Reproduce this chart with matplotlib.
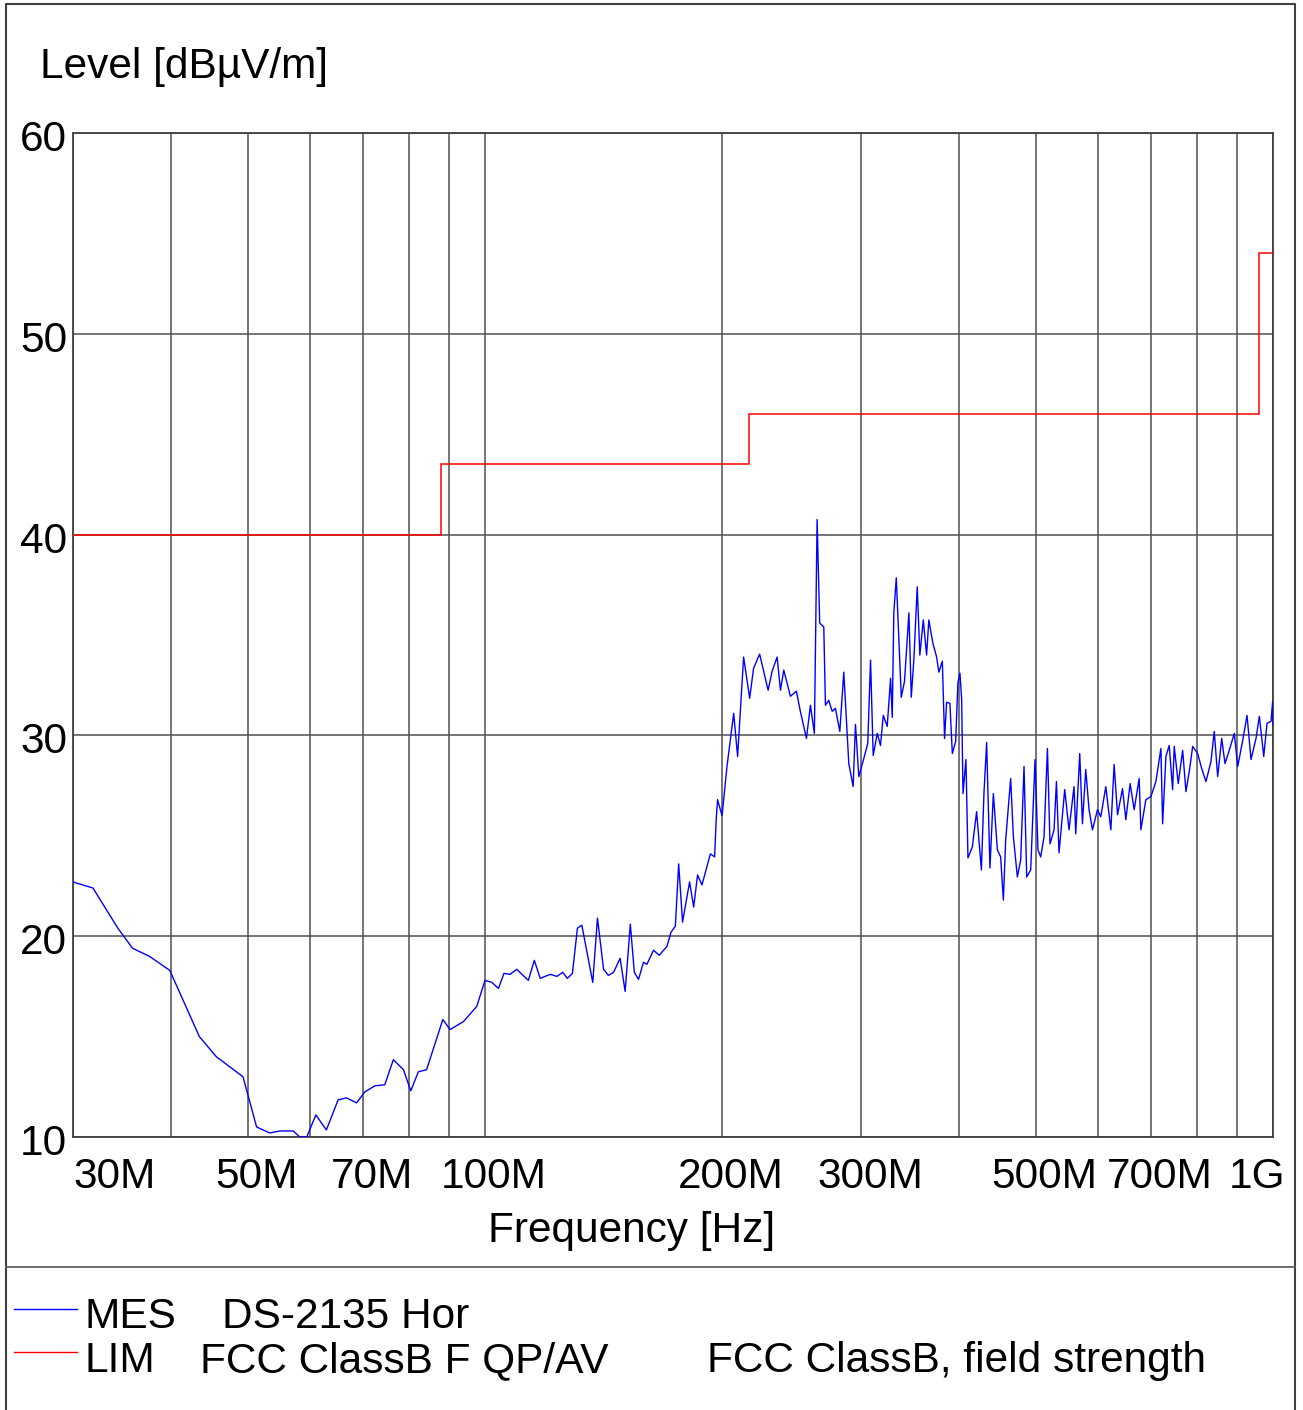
import numpy as np
import matplotlib.pyplot as plt
from matplotlib.transforms import ScaledTranslation, blended_transform_factory
from matplotlib.lines import Line2D
from matplotlib.ticker import NullLocator

plt.rcParams['font.family'] = ['Liberation Sans', 'DejaVu Sans']

# measured level, frequency in MHz / level in dBuV/m
freq_mhz = [
    30.0, 31.8, 34.2, 35.7, 37.5, 39.8, 43.4, 45.6, 49.3, 51.3, 53.3, 54.9, 57.1, 58.2,
    59.4, 61.0, 62.9, 65.1, 66.7, 68.7, 70.4, 72.5, 74.6, 76.5, 78.8, 80.5, 82.3, 84.3,
    88.4, 90.3, 93.9, 97.6, 100.0, 102.0, 104.0, 105.7, 107.6, 109.7, 113.5, 115.5,
    117.5, 121.0, 123.4, 125.5, 127.2, 129.1, 131.0, 132.7, 137.0, 138.9, 141.4, 143.4,
    145.6, 148.4, 150.6, 152.9, 154.7, 156.6, 158.9, 160.5, 163.6, 166.4, 170.2, 172.2,
    174.4, 176.1, 178.1, 181.8, 184.0, 186.1, 188.5, 193.2, 195.6, 196.5, 197.3, 199.9,
    202.8, 206.8, 209.2, 212.9, 216.7, 219.2, 223.1, 228.7, 231.4, 234.8, 237.1, 239.4,
    244.1, 248.4, 251.3, 255.8, 258.8, 261.8, 263.9, 265.9, 269.1, 270.4, 273.0, 275.8,
    278.4, 282.0, 285.3, 289.5, 293.2, 295.2, 298.1, 302.5, 306.0, 308.5, 310.9, 314.6,
    317.6, 320.2, 323.9, 327.1, 328.7, 330.2, 332.6, 337.5, 340.7, 345.1, 347.5, 350.1,
    353.6, 356.3, 359.9, 363.4, 365.8, 370.1, 374.2, 376.7, 380.5, 383.0, 385.3, 389.0,
    391.8, 395.6, 398.2, 400.6, 402.6, 404.2, 407.7, 410.1, 415.4, 420.6, 426.5, 429.7,
    433.1, 437.3, 441.7, 446.9, 451.2, 454.8, 457.9, 464.6, 468.3, 473.8, 478.4, 483.1,
    486.9, 492.6, 498.9, 503.2, 507.2, 512.2, 517.3, 521.2, 527.4, 531.1, 535.1, 544.1,
    551.0, 559.1, 561.9, 568.5, 573.0, 578.6, 584.2, 590.1, 598.8, 604.6, 613.5, 622.6,
    628.6, 634.9, 644.2, 650.5, 658.7, 666.5, 676.3, 679.7, 689.7, 699.9, 710.2, 720.7,
    724.3, 731.3, 738.4, 745.8, 749.3, 758.1, 768.0, 775.4, 782.9, 790.8, 802.4, 811.9,
    822.1, 834.2, 842.3, 850.7, 860.8, 869.1, 877.5, 893.1, 902.0, 915.3, 926.9, 937.8,
    951.6, 960.9, 973.3, 982.6, 994.2, 999.0, 1000.0,
]
level_db = [
    22.7, 22.4, 20.4, 19.4, 19.0, 18.3, 15.0, 14.0, 13.0, 10.5, 10.2, 10.3, 10.3, 10.0,
    10.0, 11.1, 10.35, 11.85, 11.95, 11.7, 12.25, 12.55, 12.6, 13.85, 13.35, 12.3, 13.25, 13.35,
    15.85, 15.35, 15.75, 16.5, 17.8, 17.7, 17.4, 18.15, 18.1, 18.35, 17.8, 18.8,
    17.9, 18.1, 18.0, 18.2, 17.9, 18.15, 20.4, 20.55, 17.7, 20.9, 18.35, 18.05,
    18.2, 18.9, 17.25, 20.6, 18.2, 17.85, 18.7, 18.6, 19.3, 19.05, 19.5, 20.2,
    20.5, 23.6, 20.7, 22.7, 21.45, 23.05, 22.55, 24.1, 23.95, 25.8, 26.8, 26.0,
    28.45, 31.1, 28.95, 33.9, 31.85, 33.35, 34.05, 32.25, 33.2, 33.9, 32.25, 33.25,
    31.95, 32.2, 31.2, 29.85, 31.5, 30.1, 40.75, 35.6, 35.4, 31.5, 31.75, 31.2,
    31.35, 30.2, 33.15, 28.6, 27.45, 30.55, 27.95, 28.85, 29.6, 33.75, 29.0, 30.1,
    29.5, 31.0, 30.45, 32.85, 30.9, 36.1, 37.85, 31.9, 32.7, 36.1, 31.9, 33.75,
    37.4, 34.0, 35.75, 34.0, 35.75, 34.6, 33.9, 33.15, 33.7, 29.85, 31.65, 31.6,
    29.1, 29.7, 32.6, 33.1, 31.8, 27.1, 28.8, 23.9, 24.45, 26.2, 23.3, 27.1,
    29.65, 23.4, 27.1, 24.3, 23.95, 21.8, 24.8, 27.85, 24.95, 22.95, 23.8, 28.45,
    22.95, 23.3, 28.8, 24.3, 23.95, 24.95, 29.35, 24.6, 25.3, 27.7, 24.15, 27.3,
    25.3, 27.45, 25.1, 29.1, 25.6, 28.3, 26.3, 25.3, 26.3, 25.95, 27.45, 25.3,
    28.55, 26.05, 27.35, 25.8, 27.6, 26.3, 27.85, 25.3, 26.8, 26.95, 27.7, 29.35,
    25.6, 28.95, 29.5, 27.3, 29.45, 27.6, 29.25, 27.2, 28.2, 29.45, 29.1, 28.35,
    27.7, 28.7, 30.2, 27.95, 29.85, 28.6, 29.1, 30.1, 28.45, 29.75, 31.0, 28.8,
    29.85, 30.95, 28.95, 30.6, 30.7, 31.7, 30.5,
]

# FCC Class B field strength limit (step edges in MHz)
limit_edges = [30, 88, 216, 960, 1000]
limit_db = [40, 43.5, 46, 54]

grid_freqs = [30, 40, 50, 60, 70, 80, 90, 100, 200, 300, 400, 500, 600, 700, 800, 900, 1000]
xtick_freqs = [30, 50, 70, 100, 200, 300, 500, 700, 1000]
xtick_labels = ["30M", "50M", "70M", "100M", "200M", "300M", "500M", "700M", "1G"]
ytick_vals = [10, 20, 30, 40, 50, 60]

W, H = 1303, 1410
fig = plt.figure(figsize=(W / 100, H / 100), dpi=100)
ax = fig.add_axes([73 / W, 1 - 1137 / H, 1200 / W, 1004 / H])

ax.plot(freq_mhz, level_db, color="#0000ff", lw=1.0, zorder=3)
ax.stairs(limit_db, limit_edges, baseline=None, color="#ff0000", lw=1.1, zorder=3)

ax.set_xscale("log")
ax.set_xlim(30, 1000)
ax.set_ylim(10, 60)
ax.set_xticks(grid_freqs)
ax.set_yticks(ytick_vals)
ax.xaxis.set_minor_locator(NullLocator())
ax.set_xticklabels([])
ax.set_yticklabels([])
ax.tick_params(length=0)
ax.grid(True, color="#505050", lw=1.1)
for s in ax.spines.values():
    s.set_color("#404040")
    s.set_linewidth(1.3)

fs = 30.5

def px(dx, dy):
    return ScaledTranslation(dx / 100, dy / 100, fig.dpi_scale_trans)

# x tick labels, drawn as text to match the offsets of the original
xt = blended_transform_factory(ax.transData, ax.transAxes)
for f, lab in zip(xtick_freqs, xtick_labels):
    if f == 30:
        ax.text(f, 0, lab, transform=xt + px(0, -51), ha="left", va="baseline", fontsize=fs)
    elif f == 1000:
        ax.text(f, 0, lab, transform=xt + px(12, -51), ha="right", va="baseline", fontsize=fs)
    else:
        ax.text(f, 0, lab, transform=xt + px(9, -51), ha="center", va="baseline", fontsize=fs)

yt = blended_transform_factory(ax.transAxes, ax.transData)
for v in ytick_vals:
    ax.text(0, v, str(v), transform=yt + px(-6, -18), ha="right", va="baseline", fontsize=fs)

fig.text(40 / W, 1 - 78 / H, "Level [dBµV/m]", fontsize=fs, ha="left", va="baseline")
fig.text(488 / W, 1 - 1242 / H, "Frequency [Hz]", fontsize=fs, ha="left", va="baseline")

# frame and separator
fig.add_artist(Line2D([6 / W, 6 / W, 1295 / W, 1295 / W], [0, 1 - 4 / H, 1 - 4 / H, 0],
                      color="#404040", lw=1.5))
fig.add_artist(Line2D([6 / W, 1295 / W], [1 - 1267 / H, 1 - 1267 / H], color="#606060", lw=1.3))

# legend
fig.add_artist(Line2D([14 / W, 77 / W], [1 - 1309 / H, 1 - 1309 / H], color="#0000ff", lw=1.0))
fig.add_artist(Line2D([14 / W, 77 / W], [1 - 1352 / H, 1 - 1352 / H], color="#ff0000", lw=1.0))
fig.text(85 / W, 1 - 1328 / H, "MES", fontsize=fs, va="baseline")
fig.text(222 / W, 1 - 1328 / H, "DS-2135 Hor", fontsize=fs, va="baseline")
fig.text(85 / W, 1 - 1372 / H, "LIM", fontsize=fs, va="baseline")
fig.text(200 / W, 1 - 1372 / H, "FCC ClassB F QP/AV", fontsize=fs, va="baseline")
fig.text(707 / W, 1 - 1372 / H, "FCC ClassB, field strength", fontsize=fs, va="baseline")

fig.savefig("out.png", dpi=100)
